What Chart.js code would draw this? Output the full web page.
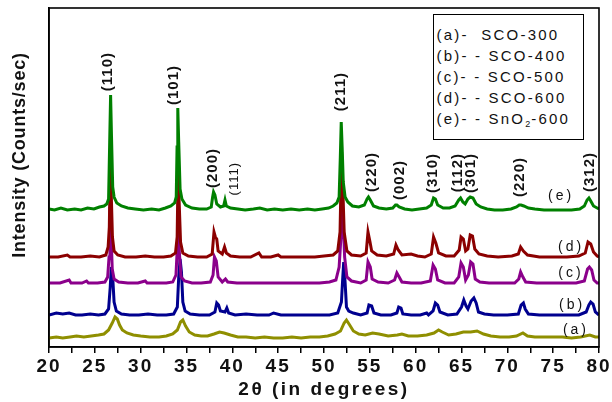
<!DOCTYPE html>
<html><head><meta charset="utf-8">
<script src="https://cdn.jsdelivr.net/npm/chart.js@4.4.1/dist/chart.umd.min.js"></script>
<style>
html,body{margin:0;padding:0;background:#fff;}
#wrap{position:relative;width:612px;height:402px;}
#legend{position:absolute;left:433px;top:14px;width:151px;height:126px;border:1.5px solid #000;box-sizing:border-box;
 font-family:"Liberation Sans",Arial,sans-serif;font-size:15px;letter-spacing:2.2px;color:#111;line-height:21px;padding:9px 0 0 2.5px;white-space:pre;background:#fff;}
#legend sub{font-size:9px;vertical-align:-3px;line-height:0;letter-spacing:1px;}
</style></head>
<body><div id="wrap"><canvas id="c" width="612" height="402"></canvas><div id="legend"></div></div>
<script>
// ---- data (2theta in degrees, intensity offset per pattern) ----
const seriesNames = ["(a)", "(b)", "(c)", "(d)", "(e)"];
const legendTexts = ["(a)-  SCO-300", "(b)- - SCO-400", "(c)- - SCO-500", "(d)- - SCO-600", "(e)- - SnO<sub>2</sub>-600"];
const xTickLabels = [20, 25, 30, 35, 40, 45, 50, 55, 60, 65, 70, 75, 80];

const e_x = [20.0,20.6,21.3,22.0,22.8,23.5,24.2,24.9,25.5,26.0,26.3,26.5,26.62,26.72,26.82,26.95,27.1,27.4,27.9,28.6,29.4,30.3,31.2,32.0,32.7,33.3,33.7,33.88,33.97,34.05,34.15,34.3,34.5,34.9,35.6,36.4,37.2,37.7,37.85,37.95,38.1,38.3,38.7,39.05,39.2,39.35,39.8,40.6,41.4,42.3,43.0,43.8,44.6,45.5,46.4,47.3,48.2,49.0,49.8,50.5,51.0,51.4,51.65,51.78,51.88,51.98,52.1,52.3,52.6,53.1,53.8,54.4,54.7,54.85,55.05,55.4,56.0,56.8,57.5,57.8,57.95,58.2,58.8,59.6,60.4,61.2,61.7,61.95,62.15,62.4,63.0,63.7,64.3,64.7,64.9,65.15,65.4,65.7,65.95,66.25,66.6,67.1,67.8,68.6,69.5,70.4,71.0,71.3,71.5,71.8,72.3,73.0,74.0,75.0,76.0,77.0,77.9,78.4,78.7,78.9,79.1,79.4,79.8,80.0];
const e_y = [138,137,139,137,138,137,139,138,140,141,143,148,205,252,210,160,150,144,141,139,138,137,138,137,139,141,144,150,200,239,205,158,148,142,139,138,138,140,150,155,152,143,140,141,147,141,139,138,137,138,139,137,138,137,138,137,138,137,138,139,141,144,150,190,225,200,165,150,145,141,140,142,148,150,147,141,139,138,139,142,142,140,138,137,138,139,142,149,148,142,139,139,141,147,149,145,143,148,150,149,143,140,138,137,137,138,140,142,142,141,139,138,137,137,137,137,138,141,147,149,146,141,139,138];

const d_x = [20.0,21.0,22.0,22.3,23.5,24.5,25.5,26.2,26.45,26.58,26.68,26.8,26.92,27.1,27.5,28.3,29.5,30.5,31.5,32.5,33.3,33.8,33.98,34.08,34.2,34.35,34.6,35.2,36.2,37.2,37.8,38.0,38.15,38.3,38.45,38.9,39.15,39.35,39.8,40.8,42.0,42.9,43.2,44.2,45.0,45.3,46.5,47.8,49.0,50.0,51.0,51.5,51.75,51.92,52.05,52.2,52.5,53.0,54.0,54.6,54.8,55.0,55.2,55.8,56.8,57.6,57.85,58.1,58.5,59.5,60.2,61.0,61.7,61.95,62.2,62.5,63.3,64.2,64.75,64.95,65.2,65.45,65.7,65.95,66.2,66.45,66.9,67.8,69.0,70.5,71.2,71.45,71.75,72.2,73.5,75.0,76.5,77.8,78.5,78.8,79.1,79.4,79.8,80.0];
const d_y = [90,90,92,90,90,91,90,92,100,120,180,150,110,96,92,90,90,91,90,90,91,94,110,175,145,105,94,91,90,90,93,115,110,108,96,93,100,94,91,90,90,94,90,90,92,90,90,90,90,91,92,96,115,195,160,115,96,92,91,94,115,106,96,92,91,93,102,97,92,93,91,90,93,110,104,94,91,91,97,110,108,96,98,112,111,98,93,91,90,91,93,100,96,92,90,90,90,91,94,105,103,95,91,90];

const c_x = [20.0,21.2,22.2,22.4,23.6,24.1,24.3,25.3,26.1,26.4,26.55,26.65,26.78,26.9,27.1,27.6,28.6,29.7,30.5,30.7,31.8,32.8,33.5,33.85,34.0,34.1,34.22,34.4,34.8,35.6,36.6,37.6,37.9,38.05,38.25,38.45,38.9,39.25,39.5,40.5,41.8,43.0,44.3,45.6,46.9,48.2,49.5,50.6,51.3,51.65,51.85,51.95,52.1,52.25,52.5,53.0,54.0,54.6,54.8,55.05,55.25,55.9,57.0,57.7,57.95,58.2,58.5,59.5,60.6,61.6,61.9,62.15,62.4,63.2,64.2,64.7,64.95,65.2,65.45,65.75,66.0,66.25,66.5,67.0,68.0,69.5,70.8,71.25,71.45,71.7,72.0,73.2,74.5,76.0,77.5,78.4,78.75,78.95,79.2,79.45,79.8,80.0];
const c_y = [64,64,67,64,64,66,64,64,65,70,90,140,110,78,68,65,64,64,66,64,64,64,65,72,100,130,95,70,66,64,64,65,72,90,86,70,65,68,65,64,64,64,64,64,64,64,64,65,67,80,110,150,125,90,70,66,64,67,85,80,68,65,64,67,74,70,65,64,64,66,82,78,67,64,64,70,84,80,67,72,85,83,68,65,64,64,64,68,75,70,65,64,64,64,64,66,78,80,77,67,64,64];

const b_x = [20.0,20.8,21.5,22.2,22.9,23.6,24.5,25.4,26.1,26.5,26.68,26.8,26.95,27.1,27.35,27.9,28.8,29.8,30.8,31.8,32.8,33.6,34.0,34.15,34.3,34.45,34.6,34.85,35.4,36.4,37.5,38.1,38.3,38.5,38.7,39.2,39.4,39.6,40.3,41.5,42.7,44.0,44.5,45.3,46.8,48.2,49.5,50.6,51.5,51.9,52.05,52.15,52.3,52.45,52.7,53.2,54.0,54.7,54.9,55.2,55.45,56.2,57.3,57.95,58.15,58.4,58.6,59.5,60.5,61.2,61.4,61.9,62.15,62.4,62.65,63.5,64.5,65.0,65.25,65.5,65.7,66.05,66.35,66.6,66.85,67.5,68.5,70.0,71.2,71.5,71.75,71.95,72.3,73.5,75.0,76.5,77.8,78.6,78.9,79.1,79.35,79.6,80.0];
const b_y = [32,34,33,34,32,32,33,32,33,38,60,80,70,45,36,33,32,32,33,32,32,33,40,70,88,75,45,36,33,32,32,35,44,42,36,35,39,34,32,33,32,32,34,32,32,32,32,32,34,45,70,85,65,40,36,34,32,34,42,41,34,32,32,34,40,39,33,32,32,34,32,36,44,42,35,32,33,40,47,41,38,46,49,44,35,33,32,32,33,42,44,38,33,32,32,32,32,35,42,45,43,35,32];

const a_x = [20.0,20.8,21.5,22.3,23.0,23.8,24.6,25.4,26.0,26.5,26.9,27.2,27.45,27.7,28.0,28.5,29.2,30.0,31.0,32.0,32.8,33.5,34.0,34.35,34.6,34.9,35.3,35.9,36.6,37.3,38.0,38.6,39.1,39.8,40.6,41.5,42.5,43.5,44.5,45.5,46.5,47.5,48.5,49.5,50.4,51.2,51.8,52.2,52.45,52.8,53.2,53.8,54.5,55.3,56.0,57.0,58.0,58.5,59.2,60.2,61.2,62.0,62.5,62.9,63.6,64.4,65.2,66.0,66.7,67.4,68.2,69.2,70.2,71.0,71.7,72.2,73.0,74.0,75.0,76.0,77.0,78.0,79.0,79.6,80.0];
const a_y = [9,10,9,10,11,10,11,12,13,17,24,30,28,22,17,14,12,11,10,10,11,13,17,25,27,21,15,12,11,11,13,15,14,12,10,10,9,10,9,9,10,9,10,10,11,13,16,24,27,22,16,13,12,14,13,11,12,13,11,11,12,14,17,15,12,13,15,15,16,13,11,10,10,11,14,11,10,10,10,10,9,10,12,10,10];

// peak (hkl) annotations: text, 2theta position, top level (in y-axis units)
const peakText = ["(110)", "(101)", "(200)", "(111)", "(211)", "(220)", "(002)", "(310)", "(112)", "(301)", "(220)", "(312)"];
const peakX    = [26.4, 33.6, 37.9, 40.2, 51.85, 55.2, 58.3, 61.9, 64.6, 66.0, 71.4, 79.0];
const peakTop  = [295, 282, 199, 185, 275, 195, 187, 194, 194, 194, 190, 195];
const peakBold = [true, true, true, false, true, true, true, true, true, true, true, true];

// curve tags on the right
const tagX = [77.27, 76.84, 76.73, 76.73, 75.64];
const tagY = [17, 42, 74, 100, 151];

const colors = ["#8f8f00", "#00008f", "#8b008b", "#8b0000", "#008000"];
const xs = [a_x, b_x, c_x, d_x, e_x];
const ys = [a_y, b_y, c_y, d_y, e_y];

document.getElementById('legend').innerHTML = legendTexts.join('\n');

const FONT = '"Liberation Sans", Arial, sans-serif';
Chart.defaults.font.family = FONT;
Chart.defaults.color = '#111';

const datasets = [4, 3, 2, 1, 0].map(i => ({
  label: seriesNames[i],
  data: xs[i].map((v, k) => ({x: v, y: ys[i][k]})),
  borderColor: colors[i],
  borderWidth: 3,
  pointRadius: 0,
  tension: 0,
  fill: false
}));

const textPlugin = {
  id: 'texts',
  beforeDraw(chart) { chart.ctx.letterSpacing = '2px'; },
  afterDraw(chart) {
    const {ctx, chartArea: a, scales: {x, y}} = chart;
    ctx.save();
    ctx.strokeStyle = '#000'; ctx.lineWidth = 1.6;
    ctx.strokeRect(a.left, a.top, a.right - a.left, a.bottom - a.top);
    ctx.fillStyle = '#111';
    // peak labels
    peakText.forEach((t, i) => {
      ctx.save();
      ctx.translate(x.getPixelForValue(peakX[i]), y.getPixelForValue(peakTop[i]));
      ctx.rotate(-Math.PI / 2);
      ctx.font = peakBold[i] ? 'bold 15px ' + FONT : '13px ' + FONT;
      ctx.letterSpacing = '1px';
      ctx.textAlign = 'right';
      ctx.textBaseline = 'middle';
      ctx.fillText(t, 0, 0);
      ctx.restore();
    });
    // series tags
    ctx.font = '14px ' + FONT;
    ctx.letterSpacing = '3px';
    ctx.textAlign = 'center';
    ctx.textBaseline = 'middle';
    seriesNames.forEach((t, i) => {
      ctx.fillText(t, x.getPixelForValue(tagX[i]) + 2, y.getPixelForValue(tagY[i]));
    });
    // axis titles
    ctx.font = 'bold 19px ' + FONT;
    ctx.letterSpacing = '2.5px';
    ctx.fillText('2\u03b8 (in degrees)', (a.left + a.right) / 2, 390);
    ctx.save();
    ctx.translate(20, 155);
    ctx.rotate(-Math.PI / 2);
    ctx.font = 'bold 18px ' + FONT;
    ctx.letterSpacing = '0.8px';
    ctx.fillText('Intensity (Counts/sec)', 0, 0);
    ctx.restore();
    ctx.restore();
  }
};

new Chart(document.getElementById('c'), {
  type: 'line',
  data: {datasets},
  options: {
    responsive: false,
    animation: false,
    events: [],
    layout: {padding: {left: 0, right: 13, top: 8, bottom: 0}},
    plugins: {legend: {display: false}, tooltip: {enabled: false}},
    scales: {
      x: {
        type: 'linear', min: 20, max: 80,
        afterBuildTicks: s => { s.ticks = []; for (let v = 20; v <= 80; v += 2.5) s.ticks.push({value: v}); },
        ticks: {
          autoSkip: false, maxRotation: 0, padding: 2,
          font: {size: 19, weight: 'bold'}, color: '#111',
          callback: v => xTickLabels.includes(v) ? String(v) : ''
        },
        grid: {drawOnChartArea: false, drawTicks: true, tickLength: 6, color: '#000', lineWidth: 1.5},
        border: {color: '#000', width: 1.6},
        afterFit: s => { s.height = 55; }
      },
      y: {
        type: 'linear', min: 0, max: 339,
        ticks: {display: false},
        grid: {display: false},
        border: {color: '#000', width: 1.6},
        afterFit: s => { s.width = 49; }
      }
    }
  },
  plugins: [textPlugin]
});
</script>
</body></html>
